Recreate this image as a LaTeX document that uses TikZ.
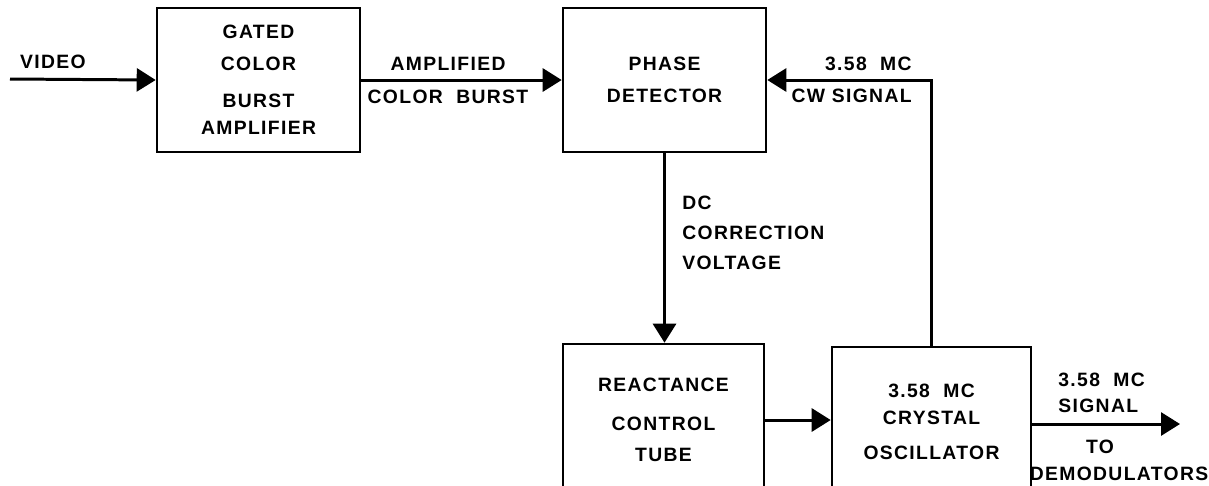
\documentclass[tikz,border=0pt]{standalone}
\usepackage{fontspec}
\setmainfont{Liberation Sans}[LetterSpace=7]
\usetikzlibrary{arrows.meta,positioning}

\begin{document}
\begin{tikzpicture}[x=0.02cm,y=-0.02cm,
  font=\fontsize{11}{18}\selectfont\bfseries,
  blk/.style={draw,line width=1.5pt,align=center,inner sep=0pt},
  arr/.style={-{Triangle[length=3.8mm,width=4.6mm]},line width=1.7pt},
  lbl/.style={inner sep=0pt}]
\useasboundingbox (0,0) rectangle (1209,485);
\clip (0,0) rectangle (1209,485);
% blocks
\node[blk,minimum width=4.06cm,minimum height=2.88cm] (gate) at (258.5,80) {GATED\\COLOR\\[3pt]BURST\\[-2.5pt]AMPLIFIER};
\node[blk,minimum width=4.06cm,minimum height=2.88cm] (phase) at (664.5,80) {PHASE\\DETECTOR};
\node[blk,minimum width=4.02cm,minimum height=3.04cm] (react) at (663.5,420) {REACTANCE\\[4pt]CONTROL\\TUBE};
\node[blk,minimum width=3.98cm,minimum height=3.0cm] (osc) at (931.5,422) {3.58\ \ MC\\[-2.6pt]CRYSTAL\\[2pt]OSCILLATOR};
\coordinate (vin) at (10,79);
\coordinate (out) at (1180,424);
% connectors
\draw[arr] (vin) -- (gate.west);
\draw[arr] (gate.east) -- (phase.west);
\draw[arr] (phase.south) -- (phase.south |- react.north);
\draw[arr] (react.east) -- (react.east -| osc.west);
\draw[arr] (osc.north) |- (phase.east);
\draw[arr] (osc.east |- out) -- (out);
% labels
\node[lbl] (lvideo) at (53,62) {VIDEO};
\node[lbl,align=center] (lburst) at (448,80.5) {AMPLIFIED\\[1pt]COLOR\ \ BURST};
\node[lbl,align=right,anchor=east] (lcw) at (912,80) {3.58\ \ MC\\CW SIGNAL};
\node[lbl,align=left,anchor=west] (ldc) at (682,233) {DC\\[-1pt]CORRECTION\\[-1pt]VOLTAGE};
\node[lbl,align=left,anchor=west] (lsig) at (1058,393) {3.58\ \ MC\\[-3.3pt]SIGNAL};
\node[lbl] (lto) at (1100,447) {TO};
\node[lbl] (ldemod) at (1119,474) {DEMODULATORS};
\end{tikzpicture}
\end{document}
